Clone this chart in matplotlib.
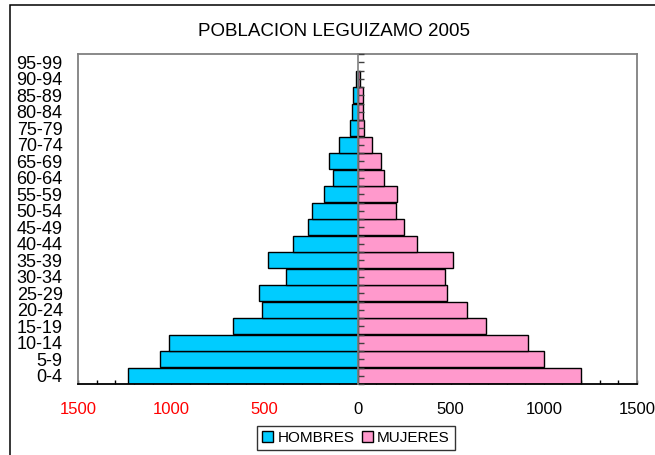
import matplotlib
matplotlib.use("Agg")
import matplotlib.pyplot as plt
import numpy as np
from matplotlib.patches import Rectangle
from matplotlib.ticker import MultipleLocator

plt.rcParams['font.family'] = ['Liberation Sans', 'DejaVu Sans']

groups = ['0-4', '5-9', '10-14', '15-19', '20-24', '25-29', '30-34', '35-39',
          '40-44', '45-49', '50-54', '55-59', '60-64', '65-69', '70-74',
          '75-79', '80-84', '85-89', '90-94', '95-99']
hombres = [1233, 1059, 1013, 669, 515, 530, 386, 481, 344, 267,
           242, 179, 130, 154, 100, 38, 29, 22, 7, 0]
mujeres = [1197, 1000, 914, 689, 587, 478, 469, 510, 320, 250,
           204, 211, 141, 127, 79, 34, 28, 28, 14, 0]
xticks = [-1500, -1000, -500, 0, 500, 1000, 1500]

fig = plt.figure(figsize=(6.55, 4.55), dpi=100)
ax = fig.add_axes([78 / 655, 71 / 455, 559 / 655, 330 / 455])

y = np.arange(len(groups))
edge_h = ['black' if v > 0 else 'none' for v in hombres]
edge_m = ['black' if v > 0 else 'none' for v in mujeres]
ax.barh(y, -np.array(hombres), height=0.95, color='#00CCFF',
        edgecolor=edge_h, linewidth=1.0, label='HOMBRES', zorder=2)
ax.barh(y, mujeres, height=0.95, color='#FF99CC',
        edgecolor=edge_m, linewidth=1.0, label='MUJERES', zorder=2)

ax.set_xlim(-1500, 1500)
ax.set_ylim(-0.5, len(groups) - 0.5)
ax.set_yticks(y)
ax.set_yticklabels(groups, fontsize=13)
ax.tick_params(axis='y', length=0, pad=11)

ax.set_xticks(xticks)
ax.set_xticklabels([str(abs(v)) for v in xticks], fontsize=12)
for lbl, v in zip(ax.get_xticklabels(), xticks):
    lbl.set_color('red' if v < 0 else 'black')
ax.xaxis.set_minor_locator(MultipleLocator(100))
ax.tick_params(axis='x', which='both', direction='in', length=3,
               width=1, pad=13)

for s in ['left', 'right', 'top']:
    ax.spines[s].set_color('#808080')
    ax.spines[s].set_linewidth(1.3)
ax.spines['bottom'].set_color('black')
ax.spines['bottom'].set_linewidth(1.3)

# category axis in the middle, ticks pointing right
ax2 = ax.twinx()
ax2.set_ylim(ax.get_ylim())
for s in ['right', 'top', 'bottom']:
    ax2.spines[s].set_visible(False)
ax2.spines['left'].set_position(('data', 0))
ax2.spines['left'].set_color('#808080')
ax2.spines['left'].set_linewidth(1.2)
ax2.yaxis.set_ticks_position('left')
ax2.set_yticks(np.arange(-0.5, len(groups), 0.5))
ax2.tick_params(axis='y', direction='in', length=4.5, width=1,
                color='#404040', labelleft=False, labelright=False)
ax2.set_zorder(ax.get_zorder() + 1)
ax2.patch.set_visible(False)

fig.text(334 / 655, 1 - 31 / 455, 'POBLACION LEGUIZAMO 2005',
         ha='center', va='center', fontsize=13.5)

leg = fig.legend(*ax.get_legend_handles_labels(), loc='center',
                 bbox_to_anchor=(356 / 655, 1 - 438 / 455), ncol=2,
                 fontsize=11, frameon=True, fancybox=False,
                 handlelength=0.7, handleheight=0.7, handletextpad=0.3,
                 columnspacing=0.5, borderpad=0.35, borderaxespad=0)
leg.get_frame().set_edgecolor('black')
leg.get_frame().set_linewidth(1.0)

# outer chart border (only top and left fall inside the image)
fig.add_artist(Rectangle((10 / 655, -0.1), 1.2, 1.1 - 5 / 455,
                         transform=fig.transFigure, fill=False,
                         edgecolor='black', linewidth=1.1))

fig.savefig('out.png', dpi=100)
